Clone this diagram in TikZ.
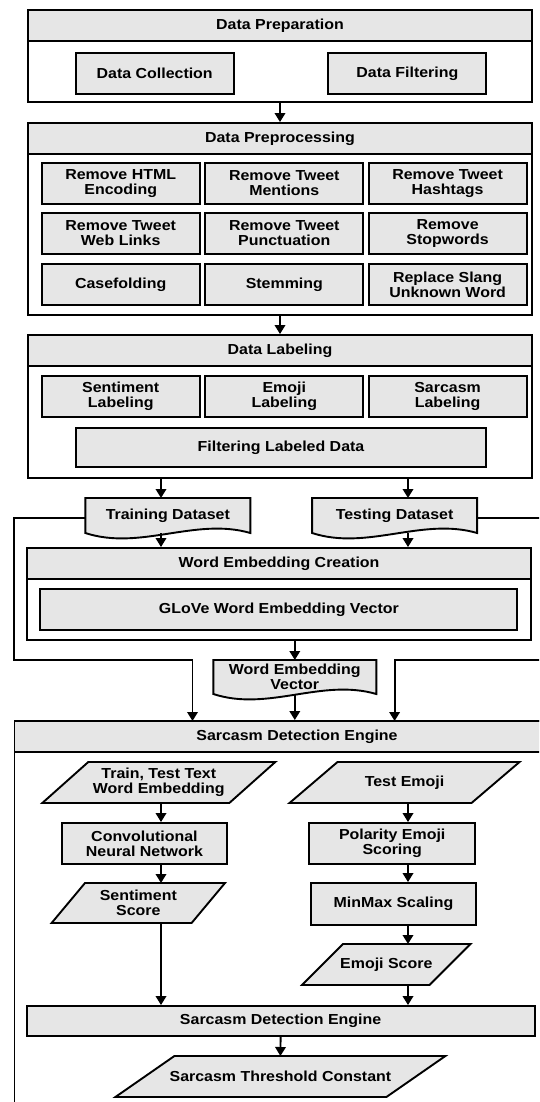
\documentclass[tikz,border=0pt]{standalone}
\usepackage{fontspec}
\setmainfont{Liberation Sans}[FakeStretch=1.1]
\usetikzlibrary{arrows.meta,backgrounds}
\definecolor{boxgray}{RGB}{230,230,230}
\newcommand{\labelfont}{\fontsize{14.5}{15}\selectfont\bfseries}
% document shape with a wavy bottom, drawn behind its node
\newcommand{\docframe}[1]{%
	\begin{scope}[on background layer]
		\draw[boxline, fill=boxgray](#1.south west) -- (#1.north west) -- (#1.north east) -- (#1.south east)
			.. controls ([xshift=-55pt, yshift=16pt]#1.south east) and ([xshift=55pt, yshift=-18pt]#1.south west) .. (#1.south west) -- cycle;
	\end{scope}}
% parallelogram (data), #2 = half of the slant
\newcommand{\paraframe}[2]{%
	\begin{scope}[on background layer]
		\draw[boxline, fill=boxgray]([xshift=-#2pt]#1.south west) -- ([xshift=-#2pt]#1.south east)
			-- ([xshift=#2pt]#1.north east) -- ([xshift=#2pt]#1.north west) -- cycle;
	\end{scope}}
\begin{document}
\begin{tikzpicture}[x=1pt, y=-1pt,
	boxline/.style={line width=1.9pt, draw=black},
	frame/.style={boxline, inner sep=0pt},
	headbox/.style={boxline, fill=boxgray, inner sep=0pt, minimum height=31pt, font=\labelfont},
	stepbox/.style={boxline, fill=boxgray, inner sep=0pt, align=center, minimum height=41pt, font=\labelfont},
	textbox/.style={inner sep=0pt, outer sep=0pt, align=center, font=\labelfont},
	arr/.style={line width=1.9pt, -{Triangle[width=10.5pt, length=9pt]}}]
	\useasboundingbox (0, 0) rectangle (539, 1102);
	\begin{scope}[on background layer]
		\fill[white](0, 0) rectangle (539, 1102);
	\end{scope}
	\clip (0, 0) rectangle (539, 1102);

	\coordinate (colL) at (161, 0);
	\coordinate (colR) at (408, 0);

	% data preparation
	\node[frame, minimum width=504pt, minimum height=92pt] (prep) at(280, 56){};
	\node[headbox, minimum width=504pt, anchor=north] (prepHead) at(prep.north){Data Preparation};
		\node[stepbox, minimum width=158pt] (collect) at(154.7, 73.5){Data Collection};
		\node[stepbox, minimum width=158pt] (filter) at(407.4, 73.5){Data Filtering};

	% data preprocessing
	\node[frame, minimum width=504pt, minimum height=192pt] (prepro) at(280, 219){};
	\node[headbox, minimum width=504pt, anchor=north] (preproHead) at(prepro.north){Data Preprocessing};
		\node[stepbox, minimum width=158pt] (html) at(120.7, 183.5){Remove HTML\\Encoding};
		\node[stepbox, minimum width=158pt] (mention) at(284.3, 183.5){Remove Tweet\\Mentions};
		\node[stepbox, minimum width=158pt] (hashtag) at(447.6, 183.5){Remove Tweet\\Hashtags};

		\node[stepbox, minimum width=158pt] (weblink) at(120.7, 233.5){Remove Tweet\\Web Links};
		\node[stepbox, minimum width=158pt] (punct) at(284.3, 233.5){Remove Tweet\\Punctuation};
		\node[stepbox, minimum width=158pt] (stopword) at(447.6, 233.5){Remove\\Stopwords};

		\node[stepbox, minimum width=158pt] (casefold) at(120.7, 284.5){Casefolding};
		\node[stepbox, minimum width=158pt] (stem) at(284.3, 284.5){Stemming};
		\node[stepbox, minimum width=158pt] (slang) at(447.6, 284.5){Replace Slang\\Unknown Word};
	\draw[arr](prep.south) -- (prepro.north);

	% data labeling
	\node[frame, minimum width=504pt, minimum height=143pt] (label) at(280, 406.5){};
	\node[headbox, minimum width=504pt, anchor=north] (labelHead) at(label.north){Data Labeling};
		\node[stepbox, minimum width=158pt] (sentlab) at(120.7, 396.5){Sentiment\\Labeling};
		\node[stepbox, minimum width=158pt] (emojilab) at(284.3, 396.5){Emoji\\Labeling};
		\node[stepbox, minimum width=158pt] (sarclab) at(447.6, 396.5){Sarcasm\\Labeling};
		\node[stepbox, minimum width=410pt, minimum height=39pt] (filterlab) at(281, 447.5){Filtering Labeled Data};
	\draw[arr](prepro.south) -- (label.north);

	% datasets
	\node[textbox, minimum width=165pt, minimum height=35pt] (train) at(167.8, 515.5){Training Dataset};
	\docframe{train}
	\node[textbox, minimum width=165pt, minimum height=35pt] (test) at(394.6, 515.5){Testing Dataset};
	\docframe{test}
	\draw[arr](label.south -| colL) -- (train.north -| colL);
	\draw[arr](label.south -| colR) -- (test.north -| colR);

	% word embedding creation
	\node[frame, minimum width=504pt, minimum height=92pt] (wec) at(279, 594){};
	\node[headbox, minimum width=504pt, anchor=north] (wecHead) at(wec.north){Word Embedding Creation};
		\node[stepbox, minimum width=477pt] (glove) at(278.8, 609.5){GLoVe Word Embedding Vector};
	\draw[arr](train.south -| colL) -- (wec.north -| colL);
	\draw[arr](test.south -| colR) -- (wec.north -| colR);

	\node[textbox, minimum width=163pt, minimum height=34pt] (wev) at(294.8, 677){Word Embedding\\Vector};
	\docframe{wev}
	\draw[arr](wec.south -| wev.north) -- (wev.north);

	% sarcasm detection engine
	\node[frame, minimum width=565pt, minimum height=408pt] (sde) at(297, 925){};
	\node[headbox, minimum width=565pt, anchor=north] (sdeHead) at(sde.north){Sarcasm Detection Engine};
	\draw[arr](wev.south) -- (wev.south |- sde.north);

	\coordinate (loopL) at (14.4, 660);
	\coordinate (inL) at (192.5, 721);
	\coordinate (loopR) at (560, 660);
	\coordinate (inR) at (394.6, 721);
	\draw[arr]([yshift=-2.5pt]train.west) -| (loopL) -| (inL);
	\draw[arr]([yshift=-2.5pt]test.east) -| (loopR) -| (inR);

		\node[textbox, minimum width=187pt, minimum height=41pt] (textemb) at(158.8, 782.5){Train, Test Text\\Word Embedding};
		\paraframe{textemb}{23}
		\node[textbox, minimum width=182pt, minimum height=41pt] (emojiin) at(404.5, 782.5){Test Emoji};
		\paraframe{emojiin}{24}

		\node[stepbox, minimum width=165pt] (cnn) at(144.4, 843.5){Convolutional\\Neural Network};
		\node[stepbox, minimum width=166pt] (polarity) at(392.2, 843.5){Polarity Emoji\\Scoring};

		\node[textbox, minimum width=140pt, minimum height=40pt] (sentscore) at(138.3, 903){Sentiment\\Score};
		\paraframe{sentscore}{16.7}
		\node[stepbox, minimum width=165pt, minimum height=42pt] (minmax) at(393.5, 904){MinMax Scaling};

		\node[textbox, minimum width=127.5pt, minimum height=41pt] (emojiscore) at(386.3, 964.5){Emoji Score};
		\paraframe{emojiscore}{20.5}

		\node[stepbox, minimum width=508pt, minimum height=30pt] (sdeIn) at(280.6, 1021){Sarcasm Detection Engine};
		\node[textbox, minimum width=271pt, minimum height=41pt] (threshold) at(280.4, 1076.5){Sarcasm Threshold Constant};
		\paraframe{threshold}{29.5}

		\draw[arr](textemb.south -| colL) -- (cnn.north -| colL);
		\draw[arr](cnn.south -| colL) -- (sentscore.north -| colL);
		\draw[arr](sentscore.south -| colL) -- (sdeIn.north -| colL);

		\draw[arr](emojiin.south -| colR) -- (polarity.north -| colR);
		\draw[arr](polarity.south -| colR) -- (minmax.north -| colR);
		\draw[arr](minmax.south -| colR) -- (emojiscore.north -| colR);
		\draw[arr](emojiscore.south -| colR) -- (sdeIn.north -| colR);

		\draw[arr](sdeIn.south) -- (threshold.north);
\end{tikzpicture}
\end{document}
